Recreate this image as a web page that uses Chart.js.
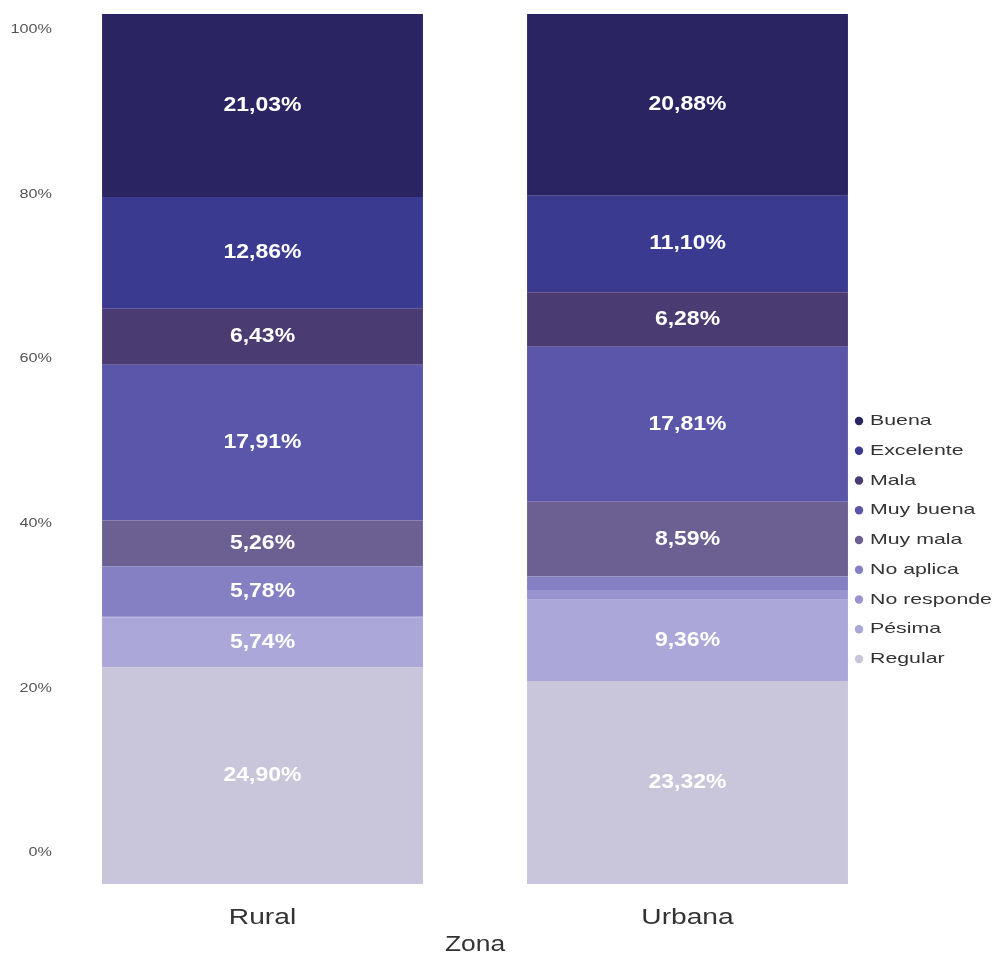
<!DOCTYPE html>
<html>
<head>
<meta charset="utf-8">
<script src="https://cdn.jsdelivr.net/npm/chart.js@4.4.0/dist/chart.umd.min.js"></script>
<style>
  html, body { margin: 0; padding: 0; background: #fff; }
  #wrap { width: 997px; height: 962px; }
</style>
</head>
<body>
<div id="wrap"><canvas id="chart" width="997" height="962"></canvas></div>
<script>
const zonas = ['Rural', 'Urbana'];

// categorias de respuesta, en el orden de la leyenda (de arriba hacia abajo en la barra)
const categorias = ['Buena', 'Excelente', 'Mala', 'Muy buena', 'Muy mala', 'No aplica', 'No responde', 'Pésima', 'Regular'];

// porcentaje por zona: [Rural, Urbana]
const buena      = [21.03, 20.88];
const excelente  = [12.86, 11.10];
const mala       = [6.43, 6.28];
const muyBuena   = [17.91, 17.81];
const muyMala    = [5.26, 8.59];
const noAplica   = [5.78, 1.55];
const noResponde = [0.09, 1.11];
const pesima     = [5.74, 9.36];
const regular    = [24.90, 23.32];

const yTicks = [0, 20, 40, 60, 80, 100];

const colores = ['#2a2462', '#3a3a90', '#4a3b72', '#5a56a9', '#6c6093', '#8580c4', '#9994cf', '#aba7d8', '#c9c5da'];

const series = [buena, excelente, mala, muyBuena, muyMala, noAplica, noResponde, pesima, regular];

const FONT = '"Liberation Sans", Arial, Helvetica, sans-serif';

// Chart.js apila desde el primer dataset, así que Regular va primero
const datasets = categorias.map((nombre, i) => ({
  label: nombre,
  data: series[i],
  backgroundColor: colores[i],
  borderWidth: 0,
  yAxisID: 'y',
  categoryPercentage: 1.0,
  barPercentage: 0.755
})).reverse();

const fmt = v => v.toFixed(2).replace('.', ',') + '%';

// texto ensanchado en horizontal (la tipografía del gráfico es más ancha que Arial)
function texto(ctx, str, x, y, align, sx) {
  ctx.save();
  ctx.translate(x, y);
  ctx.scale(sx, 1);
  ctx.textAlign = align;
  ctx.fillText(str, 0, 0);
  ctx.restore();
}

const etiquetasBarra = {
  id: 'etiquetasBarra',
  afterDatasetsDraw(chart) {
    const ctx = chart.ctx;
    ctx.save();
    ctx.font = 'bold 20px ' + FONT;
    ctx.fillStyle = '#ffffff';
    ctx.textBaseline = 'middle';
    chart.data.datasets.forEach((ds, di) => {
      const meta = chart.getDatasetMeta(di);
      meta.data.forEach((bar, j) => {
        const v = ds.data[j];
        if (v < 3) return;
        texto(ctx, fmt(v), bar.x, (bar.y + bar.base) / 2, 'center', 1.15);
      });
    });
    ctx.restore();
  }
};

const ejes = {
  id: 'ejes',
  afterDraw(chart) {
    const ctx = chart.ctx;
    const xs = chart.scales.x;
    const ys = chart.scales.yPct;
    ctx.save();
    ctx.textBaseline = 'middle';

    ctx.fillStyle = '#555';
    ctx.font = '12px ' + FONT;
    yTicks.forEach(v => texto(ctx, v + '%', 52, ys.getPixelForValue(v), 'right', 1.35));

    ctx.fillStyle = '#333';
    ctx.font = '22px ' + FONT;
    zonas.forEach((z, i) => texto(ctx, z, xs.getPixelForValue(i), xs.top + 34, 'center', 1.28));
    texto(ctx, 'Zona', (xs.left + xs.right) / 2, xs.top + 61, 'center', 1.2);
    ctx.restore();
  }
};

const leyenda = {
  id: 'leyenda',
  afterDraw(chart) {
    const ctx = chart.ctx;
    const items = chart.data.datasets.slice().reverse();
    ctx.save();
    ctx.font = '15px ' + FONT;
    ctx.textBaseline = 'middle';
    items.forEach((ds, k) => {
      const y = 421 + k * 29.75;
      ctx.beginPath();
      ctx.arc(859, y, 4.2, 0, Math.PI * 2);
      ctx.fillStyle = ds.backgroundColor;
      ctx.fill();
      ctx.fillStyle = '#333333';
      texto(ctx, ds.label, 870, y, 'left', 1.42);
    });
    ctx.restore();
  }
};

new Chart(document.getElementById('chart'), {
  type: 'bar',
  data: { labels: zonas, datasets },
  options: {
    responsive: false,
    animation: false,
    events: [],
    layout: { padding: { top: 14, right: 97, left: 0, bottom: 0 } },
    plugins: {
      legend: { display: false },
      tooltip: { enabled: false }
    },
    scales: {
      x: {
        stacked: true,
        grid: { display: false, drawTicks: false },
        border: { display: false },
        ticks: { display: false },
        afterFit(scale) { scale.height = 78; }
      },
      y: {
        stacked: true,
        min: 0,
        max: 100,
        display: false
      },
      // eje de porcentajes que se muestra a la izquierda
      yPct: {
        position: 'left',
        min: -3.77,
        max: 101.94,
        grid: { display: false, drawTicks: false },
        border: { display: false },
        ticks: { display: false },
        afterFit(scale) { scale.width = 50; }
      }
    }
  },
  plugins: [etiquetasBarra, ejes, leyenda]
});
</script>
</body>
</html>
